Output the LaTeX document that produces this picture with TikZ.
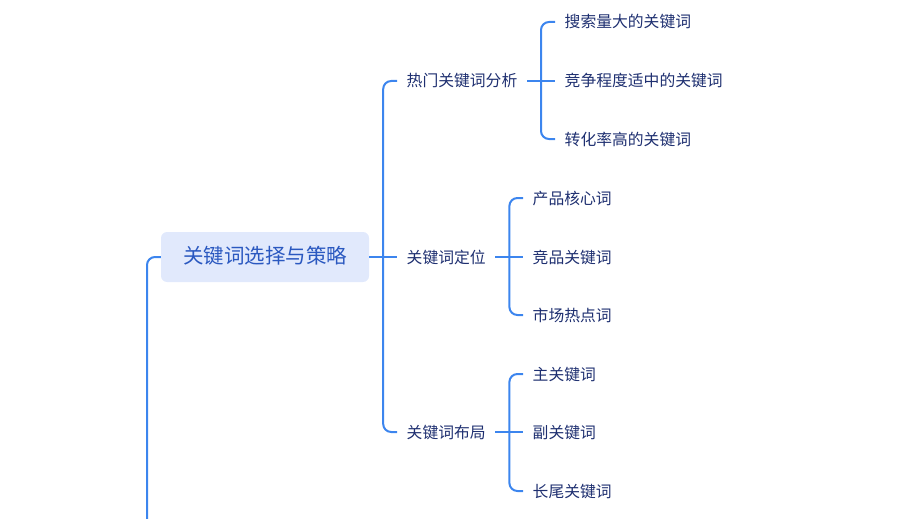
\documentclass[tikz,border=0pt]{standalone}
\usepackage{fontspec}
\newfontfamily\cjk{Noto Sans CJK SC}
\definecolor{linec}{HTML}{3C85EE}
\definecolor{boxfill}{HTML}{E1E9FC}
\definecolor{maintxt}{HTML}{2A58C0}
\definecolor{subtxt}{HTML}{1E2F70}
\begin{document}
\begin{tikzpicture}[x=1pt,y=-1pt,
  conn/.style={draw=linec,line width=2pt,rounded corners=8pt},
  rootbox/.style={fill=boxfill,rounded corners=6pt,minimum width=208pt,minimum height=50pt,inner sep=0pt,font=\cjk\fontsize{20.5}{24}\selectfont,text=maintxt,text height=1.26em,text depth=0pt},
  lvtwo/.style={anchor=west,inner xsep=9.5pt,inner ysep=0pt,font=\cjk\fontsize{15.8}{19}\selectfont,text=subtxt,text height=1.2em,text depth=0pt},
  leaf/.style={lvtwo}]
\useasboundingbox (0,0) rectangle (911,519);
\node[rootbox] (main) at (265,257) {关键词选择与策略};
\node[lvtwo] (a) at (397,81) {热门关键词分析};
\node[lvtwo] (b) at (397,257) {关键词定位};
\node[lvtwo] (c) at (397,432) {关键词布局};
\node[leaf] (a1) at (555,22) {搜索量大的关键词};
\node[leaf] (a2) at (555,81) {竞争程度适中的关键词};
\node[leaf] (a3) at (555,139) {转化率高的关键词};
\node[leaf] (b1) at (523,198) {产品核心词};
\node[leaf] (b2) at (523,257) {竞品关键词};
\node[leaf] (b3) at (523,315) {市场热点词};
\node[leaf] (c1) at (523,374) {主关键词};
\node[leaf] (c2) at (523,432) {副关键词};
\node[leaf] (c3) at (523,491) {长尾关键词};
\coordinate (tail) at (147,519);
% root connectors
\draw[conn] (main.west) -| (tail);
\draw[conn] (main.east) -- (b.west);
\draw[conn] (a.west) -| ([xshift=14pt]main.east);
\draw[conn] (c.west) -| ([xshift=14pt]main.east);
% a
\draw[conn] (a.east) -- (a2.west);
\draw[conn] (a1.west) -| ([xshift=14pt]a.east);
\draw[conn] (a3.west) -| ([xshift=14pt]a.east);
% b
\draw[conn] (b.east) -- (b2.west);
\draw[conn] (b1.west) -| ([xshift=14pt]b.east);
\draw[conn] (b3.west) -| ([xshift=14pt]b.east);
% c
\draw[conn] (c.east) -- (c2.west);
\draw[conn] (c1.west) -| ([xshift=14pt]c.east);
\draw[conn] (c3.west) -| ([xshift=14pt]c.east);
\end{tikzpicture}
\end{document}
